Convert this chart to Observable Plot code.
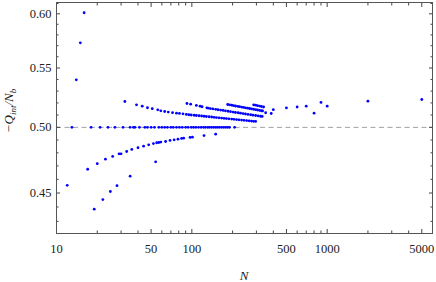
<!DOCTYPE html>
<html><head><meta charset="utf-8">
<script src="https://cdn.jsdelivr.net/npm/d3@7"></script>
<script src="https://cdn.jsdelivr.net/npm/@observablehq/plot@0.6"></script>
<style>
body{margin:0;background:#fff}
svg, svg text { font-family: "Liberation Serif", "Times New Roman", serif !important; }
</style>
</head><body><div id="chart"></div>
<script>
// Tick values
const xMajor = [10, 50, 100, 500, 1000, 5000];
const xMinor = [20, 30, 40, 60, 70, 80, 90, 200, 300, 400, 600, 700, 800, 900, 2000, 3000, 4000];
const yMajor = [0.45, 0.50, 0.55, 0.60];
const yMinor = [0.43, 0.44, 0.46, 0.47, 0.48, 0.49, 0.51, 0.52, 0.53, 0.54, 0.56, 0.57, 0.58, 0.59, 0.61];

// Series (N, -Q_int/N_b)
const smallN = [12, 14, 15, 16];
const smallQ = [0.4556, 0.5397, 0.5727, 0.6010];

const halfN = [13, 18, 21, 24, 27, 31, 35, 37, 38, 41, 45, 47, 50, 53, 57, 60, 63, 66, 70, 73, 77, 81, 85, 90, 94, 99, 103, 107, 112, 117, 122, 126, 131, 135, 140, 145, 150, 155, 160, 166, 172, 178, 184, 190, 207];

const lowAN = [17, 20, 23, 26, 29, 30, 33, 36, 40, 44, 48, 52, 55, 57, 59, 64, 69, 74, 79, 84, 87, 97, 101, 123, 150];
const lowAQ = [0.4675, 0.4717, 0.4751, 0.4772, 0.4792, 0.4792, 0.4810, 0.4826, 0.4839, 0.4851, 0.4862, 0.4872, 0.4878, 0.4880, 0.4883, 0.4888, 0.4896, 0.4901, 0.4906, 0.4912, 0.4914, 0.4920, 0.4922, 0.4935, 0.4946];

const lowBN = [19, 22, 25, 28, 35, 54];
const lowBQ = [0.4385, 0.4453, 0.4511, 0.4553, 0.4623, 0.4731];

const upAN = [32, 39, 43, 47, 51, 56, 59, 63, 67, 72, 77, 81, 86, 91, 95, 99, 104, 108, 113, 118, 123, 128, 134, 140, 146, 152, 159, 166, 173, 180, 188, 197, 205, 214, 223, 233, 243, 254, 265, 276, 286, 296];
const upAQ = [0.5212, 0.5184, 0.5173, 0.5160, 0.5152, 0.5143, 0.5135, 0.5129, 0.5124, 0.5119, 0.5115, 0.5113, 0.5110, 0.5105, 0.51022, 0.51002, 0.50981, 0.50961, 0.50941, 0.50920, 0.50899, 0.50879, 0.50858, 0.50838, 0.50817, 0.50796, 0.50776, 0.50756, 0.50735, 0.50715, 0.50693, 0.50673, 0.50653, 0.50632, 0.50612, 0.50591, 0.50570, 0.50550, 0.50530, 0.50509, 0.50491, 0.50476];

const upBN = [92, 98, 108, 115, 119, 129, 132, 137, 143, 150, 156, 163, 170, 177, 185, 193, 202, 210, 220, 229, 239, 249, 260, 272, 283, 296, 309, 322, 331];
const upBQ = [0.51955, 0.51897, 0.51789, 0.51731, 0.51681, 0.51598, 0.51565, 0.51532, 0.51499, 0.51466, 0.51433, 0.51408, 0.51375, 0.51342, 0.51309, 0.51276, 0.51243, 0.51210, 0.51186, 0.51153, 0.51120, 0.51087, 0.51054, 0.51022, 0.50989, 0.50964, 0.50931, 0.50899, 0.50883];

const upCN = [184, 190, 197, 203, 210, 218, 225, 233, 241, 249, 258, 267, 276, 286, 296, 306, 317, 327, 333];
const upCQ = [0.51872, 0.51839, 0.51810, 0.51781, 0.51747, 0.51718, 0.51689, 0.51656, 0.51627, 0.51598, 0.51565, 0.51536, 0.51507, 0.51474, 0.51445, 0.51416, 0.51383, 0.51354, 0.51334];

const upDN = [286, 296, 306, 317, 327, 339];
const upDQ = [0.51847, 0.51810, 0.51772, 0.51739, 0.51702, 0.51664];

const farN = [351, 386, 400, 500, 600, 700, 800, 900, 1000, 2000, 5000];
const farQ = [0.51186, 0.51128, 0.51441, 0.51582, 0.51664, 0.51731, 0.51153, 0.52039, 0.51731, 0.52148, 0.52290];

const pts = [];
function add(Ns, Qs) { Ns.forEach((n, i) => pts.push({N: n, q: Qs[i]})); }
add(smallN, smallQ);
add(halfN, halfN.map(() => 0.5));
add(lowAN, lowAQ);
add(lowBN, lowBQ);
add(upAN, upAQ);
add(upBN, upBQ);
add(upCN, upCQ);
add(upDN, upDQ);
add(farN, farQ);

const tickColor = "#444";
const blank = () => "";
const serif = "Liberation Serif";

const chart = Plot.plot({
  width: 436, height: 282,
  marginLeft: 56, marginRight: 4, marginTop: 2, marginBottom: 49,
  style: {fontFamily: serif, fontSize: "12px", background: "#fff", color: "#222"},
  x: {type: "log", domain: [10, 6000]},
  y: {type: "log", domain: [0.42168, 0.61098]},
  marks: [
    Plot.ruleY([0.5], {stroke: "#a0a0a0", strokeDasharray: "5,3.5", strokeWidth: 1}),
    Plot.dot(pts, {x: "N", y: "q", r: 1.4, fill: "#0000ff"}),
    Plot.text(xMajor, {x: d => d, frameAnchor: "bottom", dy: 19, text: d => String(d), fontSize: 12.5, fill: "#222"}),
    Plot.text(yMajor, {y: d => d, frameAnchor: "left", dx: -5, textAnchor: "end", text: d => d3.format(".2f")(d), fontSize: 12.5, fill: "#222"}),
    Plot.axisX(xMajor, {anchor: "bottom", tickSize: -4, tickFormat: blank, label: null, stroke: tickColor}),
    Plot.axisX(xMinor, {anchor: "bottom", tickSize: -2.5, tickFormat: blank, label: null, stroke: tickColor}),
    Plot.axisX(xMajor, {anchor: "top", tickSize: -4, tickFormat: blank, label: null, stroke: tickColor}),
    Plot.axisX(xMinor, {anchor: "top", tickSize: -2.5, tickFormat: blank, label: null, stroke: tickColor}),
    Plot.axisY(yMajor, {anchor: "left", tickSize: -4, tickFormat: blank, label: null, stroke: tickColor}),
    Plot.axisY(yMinor, {anchor: "left", tickSize: -2.5, tickFormat: blank, label: null, stroke: tickColor}),
    Plot.axisY(yMajor, {anchor: "right", tickSize: -4, tickFormat: blank, label: null, stroke: tickColor}),
    Plot.axisY(yMinor, {anchor: "right", tickSize: -2.5, tickFormat: blank, label: null, stroke: tickColor}),
    Plot.frame({stroke: "#555"})
  ]
});

const svg = d3.select(chart);
svg.append("text")
  .attr("x", 244).attr("y", 280)
  .attr("text-anchor", "middle")
  .attr("font-style", "italic").attr("font-size", 13)
  .attr("fill", "#222")
  .text("N");
const yl = svg.append("text")
  .attr("transform", "translate(13,111) rotate(-90)")
  .attr("text-anchor", "middle")
  .attr("font-size", 13).attr("font-style", "italic")
  .attr("fill", "#222");
yl.append("tspan").text("−Q");
yl.append("tspan").attr("font-size", 9).attr("dy", 2.5).text("int");
yl.append("tspan").attr("dy", -2.5).text("/N");
yl.append("tspan").attr("font-size", 9).attr("dy", 2.5).text("b");
svg.selectAll("text").attr("font-family", serif);

document.getElementById("chart").appendChild(chart);
</script>
</body></html>
